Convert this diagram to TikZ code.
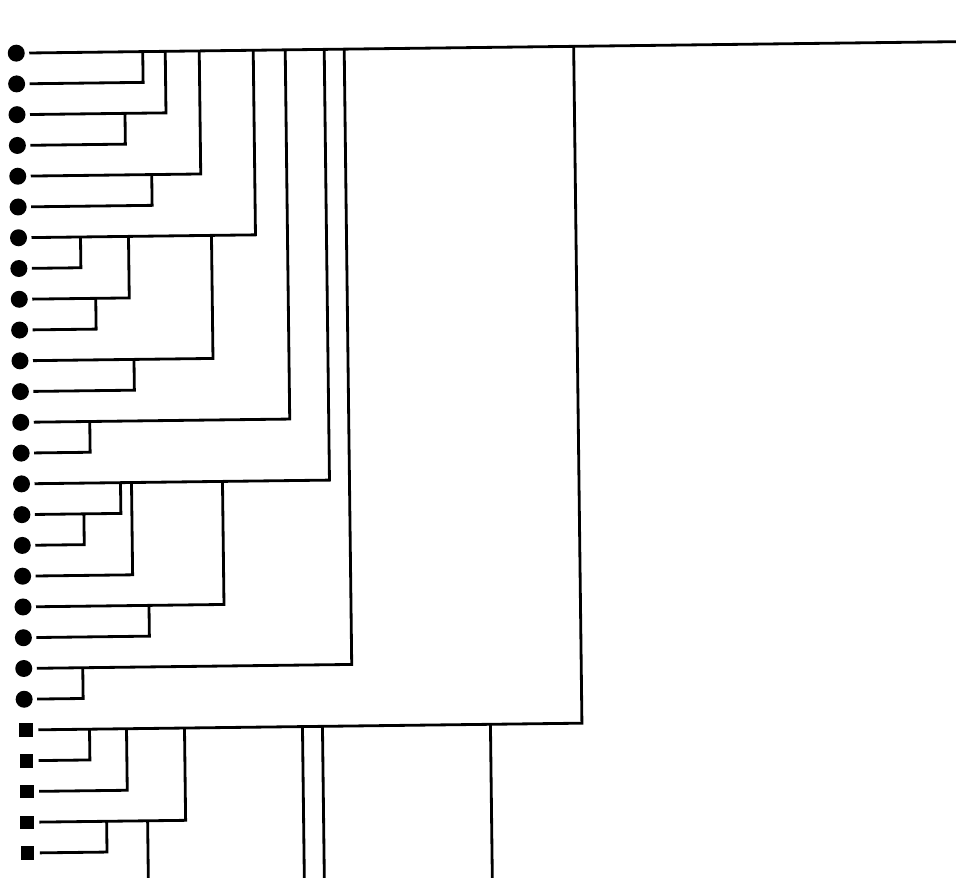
\documentclass[tikz,border=0pt]{standalone}
\usepackage{tikz}
\tikzset{
  leafdot/.style={circle, fill=black, minimum size=0.34cm, inner sep=0pt, outer sep=0.09cm},
  leafbox/.style={rectangle, fill=black, minimum size=0.27cm, inner sep=0pt, outer sep=0.11cm},
  branch/.style={draw=black, line width=1.6pt, line join=miter}
}

\begin{document}
\begin{tikzpicture}[x=0.02cm,y=-0.02cm]
  \useasboundingbox (0,0) rectangle (956,877);
  \begin{scope}[rotate around={0.7:(480,440)}]
    \foreach \n/\x in {1/980,2/147.5,3/170,4/129,5/204,6/155,7/258,8/83,9/131,10/97.5,
                       11/214,12/135,13/290,14/90,15/329,16/120,17/83,18/131,19/222,20/147,
                       21/349,22/80} {
      \node[leafdot] (l\n) at (21,{47.5+(\n-1)*30.77}) {};
      \coordinate (e\n) at (\x,{47.5+(\n-1)*30.77});
    }
    \foreach \n/\x in {23/578.5,24/86,25/123,26/181,27/102} {
      \node[leafbox] (l\n) at (22.5,{47.5+(\n-1)*30.77}) {};
      \coordinate (e\n) at (\x,{47.5+(\n-1)*30.77});
    }
    \draw[branch] (l1) -- (e1);
    \foreach \j/\i in {2/1,3/1,4/3,5/1,6/5,7/1,8/7,9/7,10/9,11/7,12/11,13/1,14/13,
                       15/1,16/15,17/16,18/15,19/15,20/19,21/1,22/21,23/1,24/23,25/23,
                       26/23,27/26}
      \draw[branch] (l\j) -- (e\j) -- (e\j |- l\i);
    \coordinate (d1) at (143,890);
    \coordinate (d2) at (299,890);
    \coordinate (d3) at (319,890);
    \coordinate (d4) at (487,890);
    \draw[branch] (d1 |- l26) -- (d1);
    \foreach \k in {2,3,4}
      \draw[branch] (d\k |- l23) -- (d\k);
  \end{scope}
\end{tikzpicture}
\end{document}
